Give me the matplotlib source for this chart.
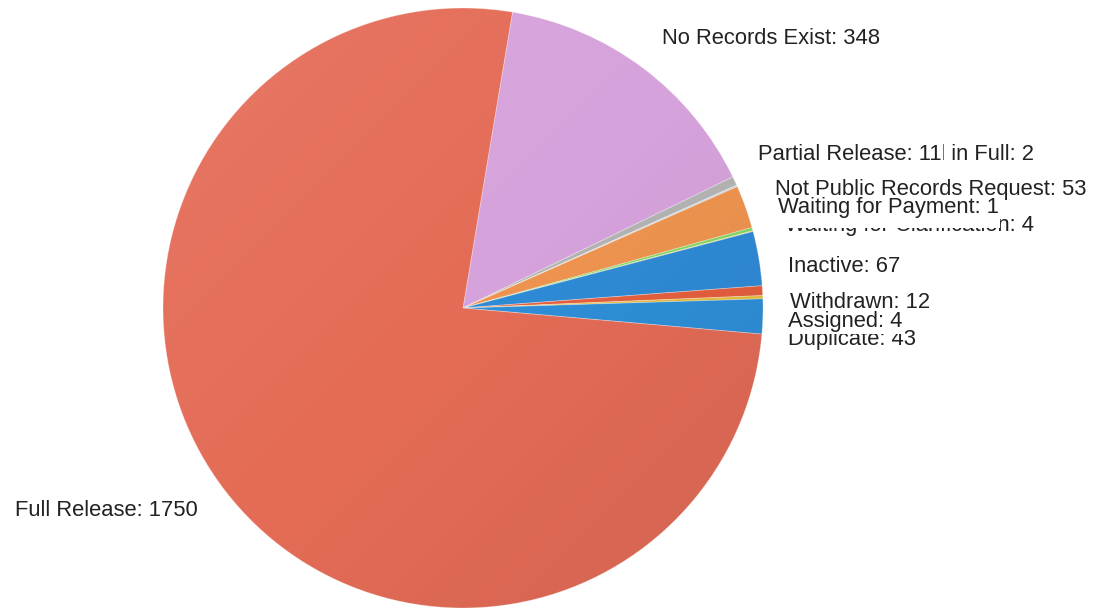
import numpy as np
import matplotlib.pyplot as plt
from matplotlib.patches import Circle, Rectangle

# slice data, clockwise from the top
labels = ["No Records Exist", "Partial Release", "Denied in Full",
          "Not Public Records Request", "Waiting for Clarification",
          "Waiting for Payment", "Inactive", "Withdrawn", "Assigned",
          "Duplicate", "Full Release"]
counts = [348, 11, 2, 53, 4, 1, 67, 12, 4, 43, 1750]
colors = ["#D6A2DB", "#B4B4B4", "#C9D6E0", "#EF9450", "#86D863",
          "#D8D050", "#2F8BD6", "#E6603F", "#E8BE3C", "#2F8FD8", "#E46C57"]

# label anchors in pixels (x, vertical centre, alignment), drawn in this order
label_pos = {
    "Full Release": (15, 510, "left"),
    "No Records Exist": (662, 38, "left"),
    "Denied in Full": (1034, 155, "right"),
    "Partial Release": (758, 155, "left"),
    "Not Public Records Request": (775, 190, "left"),
    "Waiting for Clarification": (1034, 226, "right"),
    "Waiting for Payment": (778, 208, "left"),
    "Inactive": (788, 267, "left"),
    "Duplicate": (788, 339, "left"),
    "Withdrawn": (790, 303, "left"),
    "Assigned": (788, 322, "left"),
}

W, H = 1094, 610
cx, cy, r = 463, H - 308, 300

fig = plt.figure(figsize=(W / 100, H / 100), dpi=100)
ax = fig.add_axes([0, 0, 1, 1])

ax.pie(counts, colors=colors, startangle=80.5, counterclock=False,
       center=(cx, cy), radius=r, frame=True,
       wedgeprops=dict(edgecolor=(1, 1, 1, 0.35), linewidth=0.6))

# soft diagonal shading over the pie: lighter top-left, darker bottom-right
g = np.linspace(0, 1, 200)
gx, gy = np.meshgrid(g, g)
t = (gx + (1 - gy)) / 2
shade = np.zeros((200, 200, 4))
shade[..., :3] = np.where(t[..., None] < 0.5, 1.0, 0.0)
shade[..., 3] = np.abs(t - 0.5) * 0.16
im = ax.imshow(shade, extent=(cx - r, cx + r, cy - r, cy + r), origin="lower",
               interpolation="bilinear", zorder=3)
clip = Circle((cx, cy), r, transform=ax.transData)
im.set_clip_path(clip)

ax.set_xlim(0, W)
ax.set_ylim(0, H)
ax.set_aspect("equal")
ax.axis("off")

values = dict(zip(labels, counts))
texts = {}
for i, (name, (x, y, ha)) in enumerate(label_pos.items()):
    texts[name] = ax.text(x, H - y, f"{name}: {values[name]}", ha=ha, va="center",
                          fontsize=15.8, family="Liberation Sans", color="#222222",
                          zorder=5 + i,
                          bbox=dict(facecolor="white", edgecolor="none", pad=0.8))

# the payment label's box reaches a bit lower, hiding most of the label below it
fig.canvas.draw()
bb = texts["Waiting for Payment"].get_window_extent()
ax.add_patch(Rectangle((bb.x0 - 1, bb.y0 - 9), bb.width + 2, bb.height + 9,
                       transform=None, facecolor="white", edgecolor="none",
                       zorder=texts["Waiting for Payment"].get_zorder() - 0.5))

fig.savefig("out.png", dpi=100)
